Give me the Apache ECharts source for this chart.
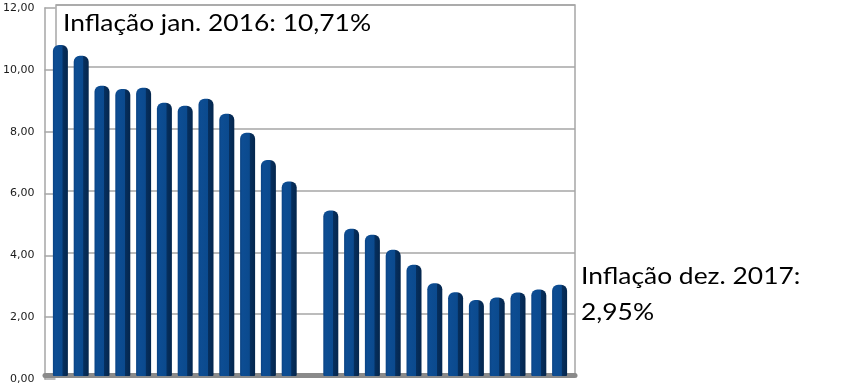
<!DOCTYPE html>
<html>
<head>
<meta charset="utf-8">
<script src="https://cdn.jsdelivr.net/npm/echarts@6/dist/echarts.min.js"></script>
<style>html,body{margin:0;padding:0;background:#fff}#c{width:860px;height:388px}</style>
</head>
<body>
<div id="c"></div>
<script>
// Monthly 12-month inflation: Jan–Dec 2016, a blank slot, Jan–Dec 2017
var categories = ['jan/16','fev/16','mar/16','abr/16','mai/16','jun/16','jul/16','ago/16','set/16','out/16','nov/16','dez/16','',
                  'jan/17','fev/17','mar/17','abr/17','mai/17','jun/17','jul/17','ago/17','set/17','out/17','nov/17','dez/17'];
var values = [10.71,10.36,9.39,9.28,9.32,8.84,8.74,8.97,8.48,7.87,6.99,6.29,null,
              5.35,4.76,4.57,4.08,3.60,3.00,2.71,2.46,2.54,2.70,2.80,2.95];
var yTicks = [0,2,4,6,8,10,12];
var noteLeft = 'Inflação jan. 2016: 10,71%';
var noteRight = ['Inflação dez. 2017:', '2,95%'];

var chart = echarts.init(document.getElementById('c'), null, {renderer:'canvas'});
var fmt = function(v){ return v.toFixed(2).replace('.', ','); };
var yMin = yTicks[0], yMax = yTicks[yTicks.length-1];
var gray = '#a6a6a6';
chart.setOption({
  animation: false,
  grid: [
    // back wall
    {left: 56, right: 285, top: 5, bottom: 12, show: true, borderColor: gray, borderWidth: 1.5},
    // front axis (labels)
    {left: 44, right: 285, top: 8, bottom: 9, show: false},
    // bars
    {left: 50, right: 290, top: 5, bottom: 12, show: false},
    // floor
    {left: 45, right: 285, top: 5, bottom: 12.5, show: false}
  ],
  xAxis: [
    {type: 'category', data: categories, gridIndex: 0, show: false},
    {type: 'category', data: categories, gridIndex: 1, show: false},
    {type: 'category', data: categories, gridIndex: 2, show: false},
    {type: 'category', data: categories, gridIndex: 3, z: 1,
     axisLine: {show: true, lineStyle: {color: '#8a8a8a', width: 5}},
     axisTick: {show: false}, axisLabel: {show: false}}
  ],
  yAxis: [
    {type: 'value', gridIndex: 0, min: yMin, max: yMax, interval: 2,
     axisLine: {show: false}, axisTick: {show: false}, axisLabel: {show: false},
     splitLine: {show: true, lineStyle: {color: gray, width: 1.5}}},
    {type: 'value', gridIndex: 1, min: yMin, max: yMax, interval: 2,
     axisLine: {show: true, lineStyle: {color: gray, width: 1.5}},
     axisTick: {show: true, inside: true, length: 11, lineStyle: {color: gray, width: 1.5}},
     splitLine: {show: false},
     axisLabel: {show: true, margin: 10, color: '#1a1a1a', fontFamily: 'DejaVu Sans', fontSize: 11, formatter: fmt}},
    {type: 'value', gridIndex: 2, min: yMin, max: yMax, interval: 2, show: false, splitLine: {show: false}},
    {type: 'value', gridIndex: 3, min: yMin, max: yMax, interval: 2, show: false, splitLine: {show: false}}
  ],
  series: [{
    type: 'bar', xAxisIndex: 2, yAxisIndex: 2, data: values, barWidth: 15, z: 3,
    itemStyle: {
      borderRadius: [6, 6, 1, 1],
      color: new echarts.graphic.LinearGradient(0, 0, 1, 0, [
        {offset: 0, color: '#0a4384'},
        {offset: 0.15, color: '#0d4d93'},
        {offset: 0.62, color: '#0b4a8e'},
        {offset: 0.66, color: '#062f5e'},
        {offset: 1, color: '#04264d'}
      ])
    }
  }],
  graphic: [
    {type: 'text', x: 63, y: 11.5, scaleX: 1.1, style: {text: noteLeft, font: '24px Lato', fill: '#000'}},
    {type: 'text', x: 581, y: 264, scaleX: 1.1, style: {text: noteRight[0], font: '24px Lato', fill: '#000'}},
    {type: 'text', x: 581, y: 300, scaleX: 1.1, style: {text: noteRight[1], font: '24px Lato', fill: '#000'}}
  ]
});
</script>
</body>
</html>
